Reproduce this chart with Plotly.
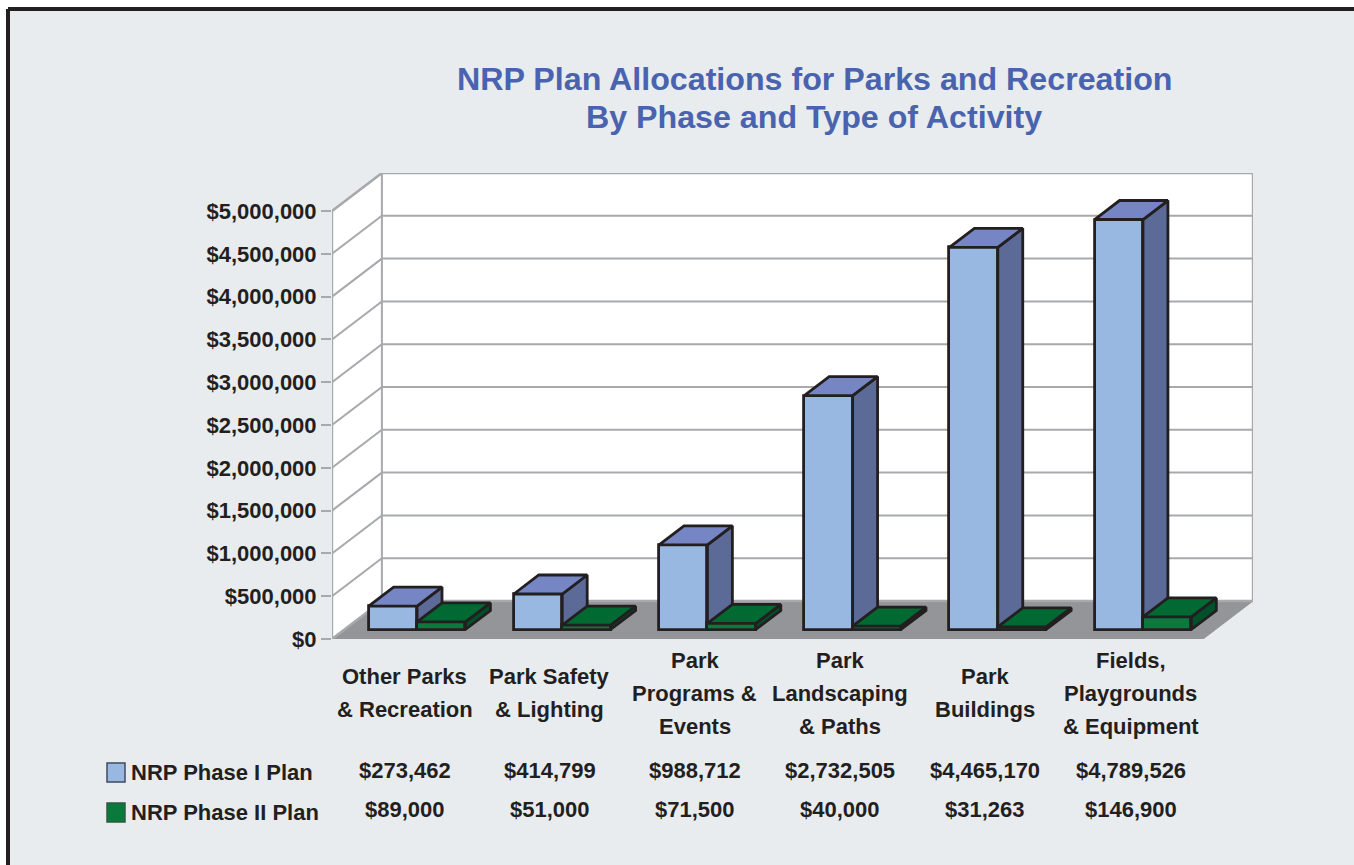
import plotly.graph_objects as go

categories = ["Other Parks<br>&amp; Recreation", "Park Safety<br>&amp; Lighting", "Park<br>Programs &amp;<br>Events",
              "Park<br>Landscaping<br>&amp; Paths", "Park<br>Buildings", "Fields,<br>Playgrounds<br>&amp; Equipment"]
phase1_name = "NRP Phase I Plan"
phase2_name = "NRP Phase II Plan"
phase1 = [273462, 414799, 988712, 2732505, 4465170, 4789526]
phase2 = [89000, 51000, 71500, 40000, 31263, 146900]
y_ticks = [0, 500000, 1000000, 1500000, 2000000, 2500000, 3000000, 3500000, 4000000, 4500000, 5000000]
title_lines = ["NRP Plan Allocations for Parks and Recreation", "By Phase and Type of Activity"]

W, H = 1354, 865
DX = 50 / 145.5      # oblique depth of the floor, in category units
DY = 444000          # oblique depth of the floor, in dollars
YMAX = 5000000
N = len(categories)
BAR_W = 1 / 3
INK = "#231F20"
GRID = "#A7A9AC"
FONT = "Liberation Sans"
NUM = 22


def p(x, v, d):
    return x + d * DX, v + d * DY


def poly(points):
    return [q[0] for q in points], [q[1] for q in points]


def wall_traces():
    out = []
    fx, fy = poly([p(0, 0, 0), p(N, 0, 0), p(N, 0, 1), p(0, 0, 1), p(0, 0, 0)])
    out.append(go.Scatter(x=fx, y=fy, fill="toself", fillcolor="#939598", mode="lines",
                          line=dict(color="#939598", width=1), cliponaxis=False, hoverinfo="skip", showlegend=False))
    wx, wy = poly([p(0, 0, 0), p(0, 0, 1), p(N, 0, 1), p(N, YMAX, 1), p(0, YMAX, 1), p(0, YMAX, 0), p(0, 0, 0)])
    out.append(go.Scatter(x=wx, y=wy, fill="toself", fillcolor="white", mode="lines",
                          line=dict(color=GRID, width=2.4), cliponaxis=False, hoverinfo="skip", showlegend=False))
    gx, gy = [], []
    for t in y_ticks:
        a, b, c = p(0, t, 0), p(0, t, 1), p(N, t, 1)
        gx += [a[0], b[0], c[0], None]
        gy += [a[1], b[1], c[1], None]
    a, b = p(0, 0, 1), p(0, YMAX, 1)
    gx += [a[0], b[0], None]
    gy += [a[1], b[1], None]
    out.append(go.Scatter(x=gx, y=gy, mode="lines", line=dict(color=GRID, width=2), cliponaxis=False,
                          hoverinfo="skip", showlegend=False))
    return out


def bar_traces(name, values, slot, front, top, side, xa, ya):
    base = 0.25 * DY
    centers = [i + slot / 3 + 0.25 * DX for i in range(N)]
    out = [go.Bar(name=name, x=centers, y=values, base=[base] * N, width=BAR_W, xaxis=xa, yaxis=ya,
                  marker=dict(color=front, line=dict(color=INK, width=2.8)), showlegend=False)]
    tx, ty, sx, sy = [], [], [], []
    for c, v in zip(centers, values):
        l, r = c - BAR_W / 2, c + BAR_W / 2
        T = base + v
        x1, y1 = poly([(l, T), (r, T), p(r, T, .5), p(l, T, .5), (l, T)])
        x2, y2 = poly([(r, base), (r, T), p(r, T, .5), p(r, base, .5), (r, base)])
        tx += x1 + [None]; ty += y1 + [None]
        sx += x2 + [None]; sy += y2 + [None]
    for xs, ys, col in ((sx, sy, side), (tx, ty, top)):
        out.append(go.Scatter(x=xs, y=ys, fill="toself", fillcolor=col, mode="lines", xaxis=xa, yaxis=ya,
                              line=dict(color=INK, width=2.8, simplify=False), cliponaxis=False,
                              hoverinfo="skip", showlegend=False))
    return out


fig = go.Figure()
fig.add_traces(wall_traces())
fig.add_traces(bar_traces(phase1_name, phase1, 1, "#98B8E2", "#7686C4", "#5C6A98", "x2", "y2"))
fig.add_traces(bar_traces(phase2_name, phase2, 2, "#0A7A3C", "#006A32", "#00502A", "x3", "y3"))

bold = dict(family=FONT, size=NUM, color=INK, weight="bold")
anns = []
for i, c in enumerate(categories):
    lines = c.split("<br>")
    for k, ln in enumerate(lines):
        py = 693 + (k - (len(lines) - 1) / 2) * 33
        anns.append(dict(x=i + 0.5, y=1 - py / H, xref="x", yref="paper", text=ln, showarrow=False,
                         xanchor="center", yanchor="middle", font=bold))
    for v, row_y in ((phase1[i], 770), (phase2[i], 809)):
        anns.append(dict(x=i + 0.5, y=1 - row_y / H, xref="x", yref="paper", text=f"${v:,}", showarrow=False,
                         xanchor="center", yanchor="middle", font=bold))
for nm, row_y in ((phase1_name, 772), (phase2_name, 812)):
    anns.append(dict(x=129 / W, y=1 - row_y / H, xref="paper", yref="paper", text=nm, showarrow=False,
                     xanchor="left", yanchor="middle", font=bold))
for ln, py in zip(title_lines, (79, 117)):
    anns.append(dict(x=814 / W, y=1 - py / H, xref="paper", yref="paper", showarrow=False,
                     xanchor="center", yanchor="middle", text=ln,
                     font=dict(family=FONT, size=32.2, color="#4A63AE", weight="bold")))

edge = dict(color=INK, width=4)
shapes = [
    dict(type="rect", xref="paper", yref="paper", x0=8 / W, x1=1, y0=0, y1=1 - 9 / H, layer="below",
         fillcolor="#E8ECEF", line=dict(width=0)),
    dict(type="line", xref="paper", yref="paper", x0=8 / W, x1=1, y0=1 - 9 / H, y1=1 - 9 / H, layer="below", line=edge),
    dict(type="line", xref="paper", yref="paper", x0=8 / W, x1=8 / W, y0=0, y1=1 - 9 / H, layer="below", line=edge),
    dict(type="rect", xref="paper", yref="paper", x0=107 / W, x1=125 / W, y0=1 - 782 / H, y1=1 - 763 / H,
         fillcolor="#98B8E2", line=dict(color="#3F4A63", width=1.5)),
    dict(type="rect", xref="paper", yref="paper", x0=107 / W, x1=125 / W, y0=1 - 822 / H, y1=1 - 803 / H,
         fillcolor="#0A7A3C", line=dict(color="#2F5A3F", width=1.5)),
]

xr = [0, N + DX]
yr = [0, YMAX + DY]
dom_x = [332 / W, 1253 / W]
dom_y = [1 - 639 / H, 1 - 173 / H]
hidden = dict(range=xr, visible=False, fixedrange=True, automargin=False)
hidden_y = dict(range=yr, visible=False, fixedrange=True, automargin=False)
fig.update_layout(
    width=W, height=H, autosize=False, margin=dict(l=0, r=0, t=0, b=0, pad=0), showlegend=False,
    paper_bgcolor="white", plot_bgcolor="rgba(0,0,0,0)", barmode="overlay", bargap=0,
    annotations=anns, shapes=shapes,
    xaxis=dict(domain=dom_x, range=xr, visible=False, fixedrange=True, automargin=False),
    yaxis=dict(domain=dom_y, range=yr, tickvals=y_ticks, ticktext=[f"${t:,}" for t in y_ticks], ticks="outside", ticklen=10,
               tickwidth=2, tickcolor=GRID, showgrid=False, zeroline=False, showline=False, fixedrange=True,
               automargin=False, tickfont=bold),
    xaxis2=dict(overlaying="x", anchor="y2", **hidden),
    yaxis2=dict(overlaying="y", anchor="x2", **hidden_y),
    xaxis3=dict(overlaying="x", anchor="y3", **hidden),
    yaxis3=dict(overlaying="y", anchor="x3", **hidden_y),
)
fig.write_html("out.html", config=dict(displayModeBar=False),
               post_script="document.body.style.margin='0';document.body.style.overflow='hidden';")
